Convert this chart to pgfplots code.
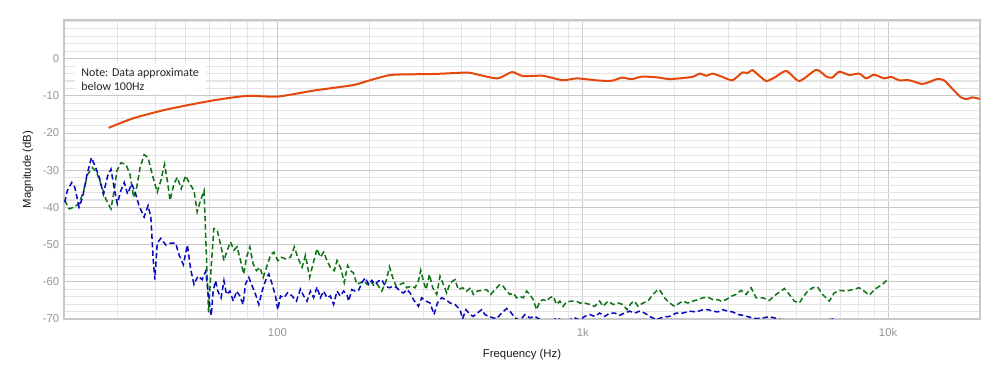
\documentclass[border=0pt]{standalone}
\usepackage{fontspec}
\setmainfont{Liberation Sans}
\newfontfamily\notefont{Carlito}
\usepackage{pgfplots}
\pgfplotsset{compat=1.18}
\definecolor{orangeline}{RGB}{229,72,12}
\definecolor{greenline}{RGB}{16,115,24}
\definecolor{blueline}{RGB}{10,10,190}
\definecolor{majgrid}{RGB}{200,200,200}
\definecolor{mingrid}{RGB}{228,228,228}
\definecolor{ticklab}{RGB}{150,150,150}
\begin{document}
\begin{tikzpicture}
\begin{axis}[
  scale only axis, width=687pt, height=224.25pt,
  xmode=log, xmin=20, xmax=20000, ymin=-70, ymax=10.4,
  xtick={100,1000,10000}, xticklabels={100,1k,10k},
  minor xtick={30,40,50,60,70,80,90,200,300,400,500,600,700,800,900,2000,3000,4000,5000,6000,7000,8000,9000},
  ytick={-70,-60,-50,-40,-30,-20,-10,0},
  yticklabels={-70,-60,-50,-40,-30,-20,-10,0},
  minor ytick={-68,-66,-64,-62,-58,-56,-54,-52,-48,-46,-44,-42,-38,-36,-34,-32,-28,-26,-24,-22,-18,-16,-14,-12,-8,-6,-4,-2,2,4,6,8,10},
  grid=both,
  major grid style={majgrid, line width=0.8pt},
  minor grid style={mingrid, line width=0.8pt},
  axis line style={majgrid, line width=0.8pt},
  major tick length=0pt, minor tick length=0pt,
  tick label style={font=\fontsize{8.5}{10}\selectfont, text=ticklab},
  xticklabel shift=3.5pt,
  label style={font=\fontsize{8.5}{10}\selectfont, text=black!90},
  xlabel={Frequency (Hz)}, ylabel={Magnitude (dB)},
  xlabel style={at={(axis description cs:0.5,-0.12)}, anchor=center},
  ylabel style={at={(axis description cs:-0.0393,0.5)}, anchor=center},
]
\addplot[greenline, line width=1.15pt, dash pattern=on 4pt off 2.3pt] coordinates {
(20.1,-38.1) (20.8,-40.4) (21.6,-39.9) (22.4,-39.0) (23.2,-35.5) (23.9,-31.1) (24.8,-29.3) (25.6,-30.6) (26.4,-33.7) (27.4,-37.7) (28.5,-40.4) (29.2,-35.5) (29.8,-30.2) (30.7,-28.0) (31.9,-28.4) (32.9,-31.1) (33.8,-37.3) (34.6,-34.6) (35.5,-29.3) (36.6,-25.8) (37.7,-26.6) (38.9,-31.1) (40.4,-35.9) (41.5,-32.8) (42.7,-28.4) (43.6,-32.8) (44.5,-38.1) (45.8,-33.7) (47.0,-31.9) (48.4,-35.0) (50.0,-31.5) (51.7,-33.7) (53.3,-35.5) (54.6,-41.2) (56.0,-38.1) (57.5,-35.5) (58.6,-54.1) (59.5,-68.2) (60.7,-55.8) (61.9,-45.7) (63.5,-46.1) (65.4,-50.6) (66.8,-54.3) (68.5,-51.5) (70.2,-49.3) (72.0,-51.5) (73.8,-50.6) (75.7,-54.3) (77.6,-57.9) (79.2,-53.4) (81.2,-50.6) (83.3,-55.2) (85.4,-57.0) (87.6,-56.1) (89.8,-58.8) (92.1,-56.1) (94.9,-52.9) (97.3,-52.0) (100.3,-54.3) (102.8,-53.4) (106.2,-53.8) (110.3,-53.4) (113.6,-50.6) (116.5,-53.4) (120.4,-56.1) (123.5,-52.9) (127.5,-58.8) (130.8,-55.2) (134.8,-51.1) (138.2,-53.4) (141.7,-52.0) (145.3,-54.3) (149.0,-56.1) (153.6,-57.0) (156.7,-54.3) (161.5,-56.5) (165.5,-60.2) (169.8,-55.6) (174.0,-57.1) (177.5,-57.6) (182.1,-60.7) (186.7,-60.3) (191.4,-59.8) (197.3,-60.7) (202.3,-59.8) (207.4,-61.2) (212.7,-60.7) (219.7,-62.5) (227.0,-59.8) (232.8,-56.0) (238.7,-58.9) (244.8,-61.2) (252.3,-60.7) (258.7,-60.3) (265.3,-61.6) (273.3,-61.2) (282.4,-61.6) (289.6,-59.8) (294.7,-56.9) (300.6,-59.8) (306.8,-62.1) (314.6,-58.0) (322.5,-61.6) (332.4,-63.4) (340.8,-58.5) (349.5,-60.7) (358.5,-63.0) (367.5,-60.3) (381.6,-59.4) (391.2,-62.1) (404.2,-61.6) (416.6,-62.5) (429.3,-61.6) (438.0,-63.4) (451.4,-62.5) (466.4,-62.3) (484.3,-62.1) (499.0,-63.4) (515.6,-62.1) (535.5,-60.7) (549.1,-61.2) (563.1,-62.5) (577.4,-63.4) (592.1,-63.0) (607.0,-64.3) (622.5,-63.9) (638.3,-64.3) (654.5,-62.5) (671.1,-63.4) (688.2,-64.8) (705.8,-67.5) (723.7,-65.2) (742.1,-64.8) (760.9,-65.2) (780.3,-64.3) (800.2,-63.9) (820.6,-66.1) (841.1,-65.2) (862.5,-66.6) (884.4,-65.4) (918.3,-65.2) (953.6,-65.2) (977.5,-65.7) (1015,-65.7) (1054,-66.1) (1095,-66.6) (1136,-65.2) (1165,-66.6) (1210,-65.2) (1256,-66.1) (1305,-65.7) (1355,-66.1) (1396,-67.5) (1442,-65.7) (1479,-65.2) (1516,-66.6) (1575,-65.7) (1635,-65.2) (1698,-63.4) (1741,-62.5) (1785,-62.1) (1853,-64.3) (1924,-65.7) (1998,-66.6) (2075,-65.7) (2127,-65.2) (2209,-65.7) (2294,-65.2) (2382,-64.8) (2473,-64.3) (2568,-64.1) (2667,-64.8) (2769,-64.8) (2839,-65.2) (2948,-64.8) (3061,-63.9) (3178,-63.4) (3300,-62.3) (3427,-63.4) (3558,-61.6) (3695,-64.3) (3884,-64.3) (4084,-65.0) (4295,-63.4) (4459,-62.5) (4573,-61.8) (4748,-63.4) (4930,-65.2) (5119,-65.7) (5248,-64.3) (5450,-62.5) (5659,-61.6) (5876,-61.4) (6101,-63.4) (6416,-65.2) (6661,-63.0) (6917,-62.3) (7273,-62.5) (7647,-62.1) (8040,-61.6) (8348,-62.5) (8668,-63.6) (9114,-61.8) (9583,-60.7) (9950,-59.4) (10000,-59.2)
};
\addplot[blueline, line width=1.15pt, dash pattern=on 4pt off 2.3pt] coordinates {
(20.1,-38.6) (20.5,-35.5) (21.2,-33.3) (21.7,-34.6) (22.4,-39.9) (23.0,-37.3) (23.8,-31.1) (24.6,-26.6) (25.4,-29.3) (26.1,-31.9) (26.9,-36.4) (27.8,-31.5) (28.5,-29.7) (29.3,-35.5) (29.9,-39.0) (30.7,-35.5) (31.5,-33.3) (32.3,-36.4) (33.3,-33.7) (34.1,-35.5) (35.2,-39.5) (36.6,-42.6) (37.7,-39.5) (38.5,-42.6) (39.2,-54.1) (39.7,-59.4) (40.4,-49.6) (41.5,-48.3) (43.1,-50.1) (44.7,-49.6) (46.4,-49.6) (47.6,-52.7) (49.2,-55.4) (50.7,-50.1) (52.0,-56.7) (53.3,-60.7) (54.9,-58.5) (56.7,-59.4) (58.2,-57.2) (59.7,-64.7) (60.7,-69.1) (61.6,-62.5) (62.7,-59.7) (63.8,-62.5) (65.4,-64.3) (66.8,-59.7) (68.1,-63.4) (69.9,-62.5) (71.7,-65.2) (73.5,-62.5) (75.3,-63.8) (77.2,-66.1) (78.6,-60.6) (80.6,-58.8) (82.6,-61.1) (84.8,-63.4) (86.9,-66.1) (89.1,-62.5) (91.4,-59.7) (93.7,-57.9) (96.1,-60.6) (98.5,-63.8) (100.3,-67.5) (102.3,-63.8) (104.9,-64.3) (108.1,-62.9) (111.7,-63.8) (115.4,-65.2) (118.9,-62.0) (121.9,-63.8) (125.0,-65.2) (128.2,-62.5) (131.4,-64.3) (134.8,-61.4) (138.2,-64.3) (141.7,-62.5) (145.3,-64.3) (149.0,-63.8) (152.8,-66.1) (156.7,-62.5) (160.6,-63.8) (164.7,-62.5) (168.9,-63.4) (171.0,-65.2) (175.3,-62.1) (179.8,-62.5) (184.4,-62.3) (189.0,-60.3) (193.8,-58.9) (198.8,-60.7) (203.8,-59.6) (208.9,-60.7) (214.2,-59.8) (219.7,-59.4) (225.3,-61.2) (232.8,-61.6) (238.7,-61.2) (246.0,-61.6) (252.3,-62.5) (258.7,-63.0) (265.3,-62.1) (272.0,-63.0) (278.9,-64.8) (289.6,-66.6) (296.9,-64.3) (306.8,-65.2) (316.1,-65.7) (325.8,-68.8) (334.1,-65.7) (345.1,-64.3) (356.5,-64.8) (367.5,-65.7) (381.6,-66.1) (396.2,-67.5) (404.2,-69.9) (414.5,-67.5) (427.2,-68.8) (438.0,-69.3) (451.4,-68.4) (466.4,-67.5) (478.3,-68.8) (490.3,-69.3) (509.1,-69.7) (522.1,-69.9) (542.3,-68.4) (563.1,-67.2) (577.4,-67.9) (599.5,-69.7) (622.5,-70.4) (646.2,-68.8) (671.1,-69.7) (696.9,-69.3) (732.7,-70.4) (770.4,-70.2) (800.2,-70.4) (820.6,-69.7) (851.8,-70.3) (895.5,-70.3) (941.6,-69.7) (977.5,-70.3) (1015,-69.3) (1054,-68.8) (1095,-69.3) (1136,-68.4) (1180,-69.3) (1225,-68.4) (1272,-68.4) (1321,-69.0) (1372,-68.4) (1425,-67.9) (1479,-68.4) (1536,-67.9) (1595,-68.4) (1656,-69.3) (1741,-70.2) (1830,-69.5) (1924,-69.3) (2023,-68.4) (2127,-68.4) (2237,-67.9) (2353,-68.1) (2473,-67.5) (2568,-67.5) (2667,-67.9) (2769,-68.1) (2875,-67.5) (2985,-67.9) (3099,-68.1) (3219,-68.8) (3342,-69.0) (3513,-69.5) (3695,-69.9) (3884,-69.7) (4084,-69.4) (4240,-69.7) (4459,-70.2) (4631,-70.2) (4808,-70.6) (5000,-71.5) (5500,-72) (6100,-71.5) (6450,-70.5) (6546,-69.5) (6650,-71) (7500,-72.5) (8500,-73) (10000,-72)
};
\addplot[orangeline, line width=1.5pt, smooth, tension=0.4] coordinates {
(28.0,-18.6) (33.8,-16.0) (43.7,-13.6) (61.8,-11.2) (79.8,-10.0) (100,-10.2) (131,-8.6) (177,-7.1) (201,-5.8) (234,-4.4) (278,-4.2) (330,-4.1) (396,-3.8) (427,-3.8) (524,-5.3) (586,-3.6) (637,-4.7) (740,-4.6) (860,-5.8) (956,-5.3) (1137,-5.9) (1253,-5.9) (1341,-5.1) (1446,-5.5) (1571,-4.8) (1785,-5.1) (1924,-5.5) (2288,-4.9) (2412,-4.0) (2543,-4.6) (2659,-4.0) (2867,-4.9) (3092,-5.8) (3334,-3.7) (3461,-3.9) (3594,-3.1) (3787,-4.6) (3992,-6.0) (4240,-5.1) (4642,-3.3) (5118,-6.0) (5818,-3.0) (6270,-4.8) (6561,-5.1) (6918,-3.5) (7459,-4.4) (8040,-4.0) (8475,-5.3) (8995,-4.3) (9703,-5.3) (10230,-4.9) (10865,-5.8) (11712,-5.8) (12916,-6.8) (13614,-6.3) (14454,-5.5) (15237,-5.8) (16187,-8.0) (17323,-10.4) (18114,-10.9) (18817,-10.4) (19682,-10.7) (20000,-10.8)
};
\node[anchor=north west, fill=white, inner xsep=5pt, inner ysep=3pt, align=left,
  font=\notefont\fontsize{9}{10.5}\selectfont, text=black!85]
  at (rel axis cs:0.0113,0.854) {Note: Data approximate\\below 100Hz};
\end{axis}
\pgfresetboundingbox
\path[use as bounding box] ([xshift=-48pt,yshift=-51.75pt]current axis.south west) rectangle ([xshift=15pt,yshift=15pt]current axis.north east);
\end{tikzpicture}
\end{document}
